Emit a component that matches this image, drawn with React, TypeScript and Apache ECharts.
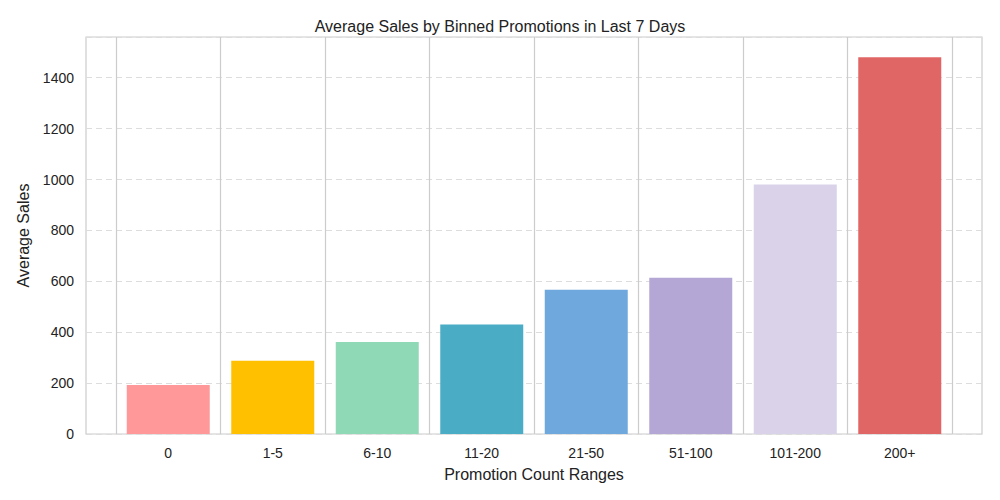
import React, { useEffect, useRef } from "react";
import * as echarts from "echarts";

const categories = ["0", "1-5", "6-10", "11-20", "21-50", "51-100", "101-200", "200+"];
const values = [193, 288, 362, 430, 567, 614, 980, 1480];
const colors = ["#FF9999", "#FFC000", "#8FD9B6", "#4BACC6", "#6FA8DC", "#B4A7D6", "#D9D2E9", "#E06666"];
const yTicks = [0, 200, 400, 600, 800, 1000, 1200, 1400];

export default function App() {
  const ref = useRef<HTMLDivElement>(null);
  useEffect(() => {
    const chart = echarts.init(ref.current!, null, { renderer: "svg" });
    const font = "Liberation Sans, Arial, sans-serif";
    const yMax = 1560;
    chart.setOption({
      animation: false,
      textStyle: { fontFamily: font },
      title: {
        text: "Average Sales by Binned Promotions in Last 7 Days",
        left: "center", top: 13,
        textStyle: { fontSize: 16, fontWeight: "normal", color: "#222", fontFamily: font },
      },
      grid: [
        { left: 86, right: 18, top: 37, bottom: 66, show: true, borderColor: "#ccc", borderWidth: 1.2 },
        { left: 116, right: 48, top: 37, bottom: 66 },
      ],
      xAxis: [
        { type: "value", gridIndex: 0, min: 0, max: 1, show: false },
        {
          type: "category", gridIndex: 1, data: categories,
          axisLine: { show: false }, axisTick: { show: false },
          axisLabel: { fontSize: 14, color: "#222", margin: 12 },
          splitLine: { show: true, interval: 0, lineStyle: { color: "#ccc", width: 1.2 } },
          name: "Promotion Count Ranges", nameLocation: "middle", nameGap: 32,
          nameTextStyle: { fontSize: 16, color: "#222" },
        },
      ],
      yAxis: [
        {
          type: "value", gridIndex: 0, min: 0, max: yMax, interval: 200,
          axisLine: { show: false }, axisTick: { show: false },
          axisLabel: {
            fontSize: 14, color: "#222", margin: 12,
            formatter: (v: number) => (yTicks.includes(v) ? String(v) : ""),
          },
          splitLine: { show: true, lineStyle: { color: "#ddd", type: [6, 4], width: 1.2 } },
          name: "Average Sales", nameLocation: "middle", nameGap: 55,
          nameTextStyle: { fontSize: 16, color: "#222" },
        },
        { type: "value", gridIndex: 1, min: 0, max: yMax, show: false, splitLine: { show: false } },
      ],
      series: [
        {
          type: "bar", xAxisIndex: 1, yAxisIndex: 1, barWidth: 83,
          data: values.map((v, i) => ({ value: v, itemStyle: { color: colors[i] } })),
        },
      ],
    });
    return () => chart.dispose();
  }, []);
  return <div ref={ref} style={{ width: 1000, height: 500, margin: -8 }} />;
}
